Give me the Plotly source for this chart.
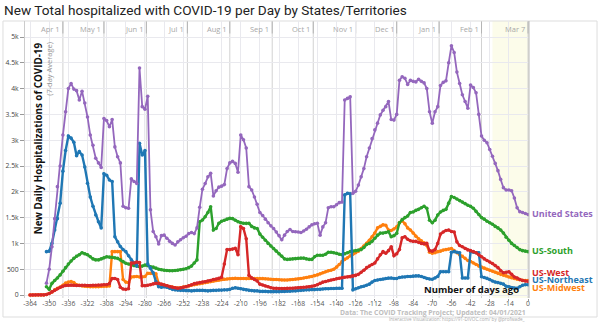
import plotly.graph_objects as go

# x positions: days ago (every 2 days)
days = list(range(-364, 1, 2))
N = None

us = [N, N, N, N, N, N, 230,
      500, 936, 1480, 2100, 2500, 3100, 3550,
      4000, 4100, 3990, 3960, 3780, 3950, 3720,
      3450, 3100, 2900, 2650, 2560, 2470, 3420,
      3380, 3260, 3400, 2870, 2680, 2560, 1720,
      1690, 1680, 2250, 2200, 2160, 4400, 3650,
      3600, 3850, 1650, 1230, 1130, 990, 1150,
      1160, 1100, 1040, 1000, 970, 1030, 1070,
      1110, 1140, 1190, 1210, 1190, 1300, 1700,
      2050, 2160, 2290, 2360, 1920, 2020, 2090,
      2110, 2140, 2450, 2560, 2590, 2550, 2380,
      3100, 3010, 2850, 2100, 2035, 1900, 1760,
      1600, 1540, 1470, 1400, 1340, 1290, 1220,
      1150, 1070, 1160, 1230, 1270, 1230, 1227,
      1220, 1210, 1240, 1273, 1320, 1360, 1380,
      1390, 1160, 1320, 1400, 1690, 1710, 1710,
      1750, 1790, 1800, 3780, 3810, 3840, 1970,
      2010, 2130, 2290, 2450, 2680, 2850, 3030,
      3200, 3330, 3490, 3580, 3650, 3750, 3400,
      3390, 3500, 4160, 4230, 4200, 4080, 4160,
      4140, 4130, 4180, 4140, 4110, 4000, 3550,
      3330, 3550, 3650, 4060, 4120, 4150, 4500,
      4830, 4700, 4320, 4100, 3880, 3750, 3620,
      4070, 4020, 3920, 3500, 3080, 3000, 2950,
      2820, 2690, 2550, 2410, 2240, 2080, 2035,
      2035, 2020, 1880, 1690, 1615, 1600, 1580,
      1560]

northeast = [N, N, N, N, N, N, 840,
             850, 1000, 1260, 1480, 1780, 2400, 2800,
             3080, 3040, 2960, 2700, 2780, 2713, 2480,
             2164, 1900, 1720, 1550, 1420, 1300, 2350,
             2320, 2230, 2200, 1130, 1030, 940, 880,
             840, 760, 680, 620, 560, 2940, 2713,
             2800, 600, 520, 430, 260, 160, 150,
             160, 150, 130, 110, 100, 95, 90,
             90, 85, 85, 80, 85, 90, 90,
             90, 85, 80, 85, 90, 90, 95,
             95, 100, 100, 110, 130, 140, 130,
             120, 110, 100, 90, 85, 80, 80,
             70, 70, 70, 65, 65, 65, 65,
             65, 70, 70, 75, 75, 80, 80,
             85, 90, 95, 100, 100, 105, 105,
             110, 110, 115, 120, 120, 125, 125,
             130, 130, 130, 1940, 1970, 1960, 100,
             120, 140, 160, 170, 190, 210, 250,
             280, 290, 300, 310, 320, 330, 330,
             320, 320, 340, 350, 350, 360, 360,
             365, 370, 370, 360, 340, 320, 310,
             305, 330, 360, 450, 450, 450, 450,
             830, 840, 830, 820, 330, 330, 330,
             840, 830, 820, 820, 355, 340, 323,
             300, 270, 250, 240, 226, 210, 170,
             160, 140, 130, 130, 160, 190, 200,
             200]

midwest = [0, 0, 0, 0, 0, 0, 10,
           30, 60, 100, 130, 150, 190, 230,
           250, 260, 240, 200, 190, 175, 170,
           165, 160, 160, 160, 160, 165, 170,
           170, 175, 840, 840, 840, 840, 300,
           250, 240, 350, 355, 360, 350, 350,
           360, 420, 420, 420, 410, 220, 200,
           195, 180, 165, 150, 140, 135, 140,
           155, 165, 175, 190, 200, 210, 220,
           230, 240, 250, 260, 270, 280, 290,
           300, 305, 310, 315, 320, 325, 320,
           320, 320, 318, 320, 322, 320, 320,
           320, 320, 315, 310, 305, 300, 300,
           295, 290, 290, 290, 295, 300, 305,
           310, 320, 330, 340, 350, 360, 375,
           390, 410, 430, 450, 470, 480, 500,
           540, 590, 650, 690, 720, 760, 790,
           820, 850, 900, 950, 1000, 1060, 1130,
           1200, 1300, 1330, 1360, 1350, 1260, 1250,
           1280, 1320, 1400, 1440, 1380, 1300, 1260,
           1200, 1140, 1090, 1050, 1010, 960, 830,
           810, 820, 840, 850, 870, 880, 890,
           900, 860, 820, 780, 750, 710, 670,
           650, 620, 590, 560, 540, 520, 500,
           480, 460, 440, 420, 400, 385, 370,
           350, 335, 320, 305, 295, 285, 282,
           280]

west = [0, 0, 0, 0, 0, 0, 10,
        30, 60, 90, 120, 150, 170, 185,
        190, 195, 190, 185, 185, 190, 190,
        185, 185, 190, 190, 195, 195, 200,
        200, 220, 320, 320, 300, 150, 115,
        110, 120, 620, 620, 640, 630, 180,
        180, 190, 200, 215, 226, 226, 210,
        194, 180, 161, 150, 140, 130, 135,
        150, 161, 180, 200, 220, 230, 240,
        250, 258, 270, 280, 300, 310, 323,
        345, 600, 880, 880, 890, 904, 780,
        1324, 1290, 1090, 380, 330, 300, 270,
        210, 194, 175, 160, 140, 130, 129,
        125, 125, 125, 128, 130, 130, 135,
        140, 145, 150, 155, 161, 170, 180,
        200, 225, 250, 262, 275, 290, 300,
        315, 325, 335, 345, 350, 355, 365,
        380, 400, 440, 480, 530, 560, 590,
        620, 700, 780, 840, 810, 860, 936,
        760, 800, 880, 1110, 1130, 1080, 1050,
        1040, 1040, 1020, 1000, 990, 1000, 860,
        850, 880, 1000, 1180, 1220, 1250, 1260,
        1230, 1220, 1030, 960, 936, 900, 872,
        860, 840, 820, 780, 740, 700, 670,
        640, 610, 570, 530, 470, 430, 440,
        450, 400, 350, 330, 300, 280, 270,
        265]

south = [N, N, N, N, N, N, 160,
         110, 226, 280, 330, 390, 460, 530,
         600, 660, 710, 750, 780, 820, 800,
         780, 740, 700, 680, 680, 700, 720,
         740, 735, 730, 720, 710, 680, 646,
         614, 600, 581, 570, 562, 550, 560,
         580, 570, 549, 540, 520, 500, 490,
         480, 475, 470, 470, 475, 480, 490,
         500, 510, 530, 560, 620, 680, 1420,
         1453, 1518, 1600, 1711, 1260, 1290, 1390,
         1430, 1450, 1470, 1486, 1480, 1450, 1420,
         1400, 1390, 1389, 1389, 1330, 1300, 1290,
         1180, 1120, 1060, 1000, 950, 900, 850,
         800, 750, 700, 690, 695, 700, 705,
         710, 715, 715, 700, 690, 690, 740,
         770, 770, 770, 790, 830, 830, 820,
         810, 790, 780, 800, 820, 840, 850,
         860, 870, 880, 920, 980, 1000, 1040,
         1100, 1160, 1200, 1200, 1210, 1227, 1130,
         1150, 1195, 1400, 1460, 1500, 1530, 1600,
         1610, 1640, 1660, 1690, 1720, 1680, 1450,
         1400, 1450, 1550, 1610, 1640, 1660, 1780,
         1910, 1890, 1860, 1830, 1800, 1770, 1740,
         1720, 1680, 1620, 1560, 1500, 1470, 1430,
         1400, 1370, 1330, 1300, 1260, 1200, 1120,
         1060, 1000, 960, 920, 880, 860, 850,
         840]

series_names = ["US-Midwest", "US-South", "US-Northeast", "US-West", "United States"]
series_vals = [midwest, south, northeast, west, us]
series_colors = ["#ff7f0e", "#2ca02c", "#1f77b4", "#d62728", "#9467bd"]

x_ticks = list(range(-364, 1, 14))
x_tick_text = [str(v) for v in x_ticks]
y_ticks = [0, 500, 1000, 1500, 2000, 2500, 3000, 3500, 4000, 4500, 5000]
y_tick_text = ["0", "500", "1k", "1.5k", "2k", "2.5k", "3k", "3.5k", "4k", "4.5k", "5k"]

month_days = [-340, -310, -279, -249, -218, -187, -157, -126, -96, -65, -34, 0]
month_labels = ["Apr 1", "May 1", "Jun 1", "Jul 1", "Aug 1", "Sep 1", "Oct 1",
                "Nov 1", "Dec 1", "Jan 1", "Feb 1", "Mar 7"]

label_names = ["United States", "US-South", "US-West", "US-Northeast", "US-Midwest"]
label_y = [1589, 872, 436, 291, 146]
label_colors = ["#9467bd", "#2ca02c", "#d62728", "#1f77b4", "#ff7f0e"]

fig = go.Figure()
for name, vals, col in zip(series_names, series_vals, series_colors):
    lw = 1.8 if name == "United States" else 2.4
    fig.add_trace(go.Scatter(
        x=days, y=vals, name=name, mode="lines+markers",
        line=dict(color=col, width=lw),
        marker=dict(color=col, size=3.6),
        showlegend=False, hoverinfo="skip"))

shapes = []
shapes.append(dict(type="rect", xref="x", yref="paper", x0=-26, x1=0.7, y0=0, y1=1,
                   fillcolor="#fcfcea", line=dict(width=0), layer="below"))
for d in month_days:
    shapes.append(dict(type="line", xref="x", yref="paper", x0=d, x1=d, y0=0, y1=1,
                       line=dict(color="#d2d2d2", width=1), layer="below"))
    shapes.append(dict(type="line", xref="x", yref="paper", x0=d, x1=d, y0=0.955, y1=1,
                       line=dict(color="#b4b4b4", width=1), layer="below"))
shapes.append(dict(type="line", xref="paper", yref="paper", x0=1, x1=1, y0=0, y1=1,
                   line=dict(color="#b8b8b8", width=1)))
shapes.append(dict(type="rect", xref="paper", yref="paper", x0=-0.0437, x1=1.135,
                   y0=-0.0686, y1=1.0, line=dict(color="#dddddd", width=1), layer="below"))

annotations = []
for d, lab in zip(month_days, month_labels):
    annotations.append(dict(x=d, y=0.972, xref="x", yref="paper", text=lab, showarrow=False,
                            xanchor="right", yanchor="middle", xshift=-1,
                            font=dict(family="Open Sans", size=7.5, color="#a8a8a8")))
for name, yv, col in zip(label_names, label_y, label_colors):
    annotations.append(dict(x=1, y=yv, xref="paper", yref="y", text="<b>%s</b>" % name,
                            showarrow=False, xanchor="left", yanchor="middle", xshift=2,
                            borderpad=0,
                            font=dict(family="Open Sans", size=9, color=col)))
annotations += [
    dict(x=-0.046, y=1.04, xref="paper", yref="paper", xanchor="left", yanchor="middle",
         text="New Total hospitalized with COVID-19 per Day by States/Territories",
         showarrow=False, font=dict(family="Roboto", size=13.6, color="#222")),
    dict(x=0.026, y=0.931, xref="paper", yref="paper", xanchor="center", yanchor="top",
         text="<b>New Daily Hospitalizations of COVID-19</b>", textangle=-90,
         showarrow=False, font=dict(family="Open Sans", size=9.8, color="#111")),
    dict(x=0.047, y=0.931, xref="paper", yref="paper", xanchor="center", yanchor="top",
         text="(7-day Average)", textangle=-90,
         showarrow=False, font=dict(family="Open Sans", size=7.5, color="#999")),
    dict(x=0.984, y=0.029, xref="paper", yref="paper", xanchor="right", yanchor="middle",
         text="<b>Number of days ago</b>", showarrow=False,
         font=dict(family="Open Sans", size=9.5, color="#111")),
    dict(x=0.996, y=-0.051, xref="paper", yref="paper", xanchor="right", yanchor="middle",
         text="<b>Data: The COVID Tracking Project; Updated: 04/01/2021</b>", showarrow=False,
         borderpad=0,
         font=dict(family="Open Sans", size=6.8, color="#bdbdbd")),
    dict(x=0.996, y=-0.076, xref="paper", yref="paper", xanchor="right", yanchor="middle",
         text="Interactive Visualization: https://91-DIVOC.com/ by @profwade_", showarrow=False,
         borderpad=0,
         font=dict(family="Open Sans", size=4.6, color="#aaaaaa")),
]

fig.update_layout(
    width=600, height=325,
    margin=dict(l=25, r=71, t=21, b=27, autoexpand=False),
    paper_bgcolor="white", plot_bgcolor="white",
    shapes=shapes, annotations=annotations,
    xaxis=dict(range=[-367.7, 0.7], tickvals=x_ticks, ticktext=x_tick_text,
               automargin=False,
               showgrid=True, gridcolor="#e9e9ee", gridwidth=1, zeroline=False,
               ticks="outside", ticklen=2, tickcolor="#999",
               ticklabelstandoff=-3,
               tickfont=dict(family="Open Sans", size=6.8, color="#555"),
               showline=False),
    yaxis=dict(range=[-58, 5310], tickvals=y_ticks, ticktext=y_tick_text,
               automargin=False,
               showgrid=True, gridcolor="#e9e9ee", gridwidth=1, zeroline=False,
               ticks="outside", ticklen=4, tickcolor="#999",
               tickfont=dict(family="Open Sans", size=6.8, color="#444"),
               showline=True, linecolor="#cccccc"),
)

fig.write_html("out.html")
